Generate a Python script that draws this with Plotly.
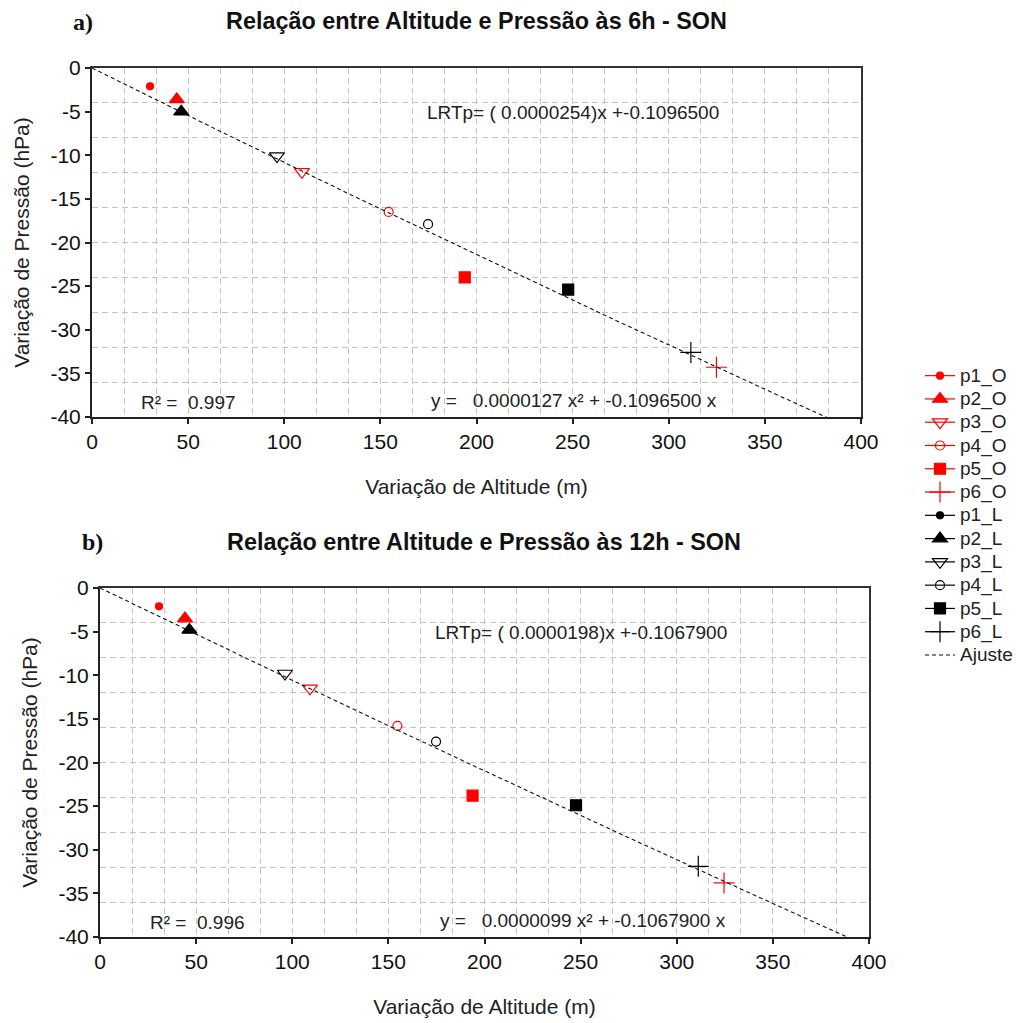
import numpy as np
import plotly.graph_objects as go

W, H = 1020, 1023

# ---- data: observed (O) and lapse-rate (L) points for each station ----
series_names = ["p1_O", "p2_O", "p3_O", "p4_O", "p5_O", "p6_O",
                "p1_L", "p2_L", "p3_L", "p4_L", "p5_L", "p6_L"]

# 06h - SON
alt_06 = [30.2, 44.1, 109.2, 154.3, 193.9, 324.8,
          None, 46.4, 96.2, 174.8, 247.7, 311.5]
pres_06 = [-2.1, -3.6, -11.9, -16.5, -24.0, -34.3,
           None, -5.0, -10.1, -17.9, -25.4, -32.6]

# 12h - SON
alt_12 = [30.7, 44.2, 109.2, 154.7, 193.8, 324.6,
          None, 46.5, 96.2, 174.8, 247.6, 311.2]
pres_12 = [-2.1, -3.5, -11.5, -15.8, -23.8, -33.8,
           None, -4.8, -9.8, -17.6, -24.9, -31.9]

# fitted curves y = a x^2 + b x
fit_06 = (0.0000127, -0.1096500)
fit_12 = (0.0000099, -0.1067900)
r2_06, r2_12 = 0.997, 0.996
lrt_06, lrt_12 = 0.0000254, 0.0000198

x_ticks = [0, 50, 100, 150, 200, 250, 300, 350, 400]
y_ticks = [0, -5, -10, -15, -20, -25, -30, -35, -40]

symbols = ["circle", "triangle-up", "triangle-down-open", "circle-open",
           "square", "cross-thin-open"]
sizes = [7, 13, 13, 9, 11, 15]

FONT = "Liberation Sans, Arial, sans-serif"
SERIF = "Liberation Serif, Times New Roman, serif"
RED, BLACK = "#ff0000", "#000000"
GRID = "#c4c4c4"

fig = go.Figure()


def add_panel(alts, pres, fit, xa, ya, show_leg):
    for i, name in enumerate(series_names):
        k = i % 6
        color = RED if i < 6 else BLACK
        fig.add_trace(go.Scatter(
            x=[alts[i]], y=[pres[i]],
            name=f'<span style="font-size:19px">{name}</span>',
            legendgroup=name, showlegend=show_leg, mode="lines+markers",
            line=dict(color=color, width=1.2),
            marker=dict(symbol=symbols[k], size=sizes[k], color=color,
                        line=dict(color=color, width=1.2)),
            xaxis=xa, yaxis=ya, cliponaxis=False))
    xf = np.linspace(0, 400, 401)
    yf = fit[0] * xf ** 2 + fit[1] * xf
    fig.add_trace(go.Scatter(
        x=xf, y=yf, name='<span style="font-size:19px">Ajuste</span>',
        legendgroup="Ajuste", showlegend=show_leg,
        mode="lines", line=dict(color="#111111", width=1.1, dash="4px,3px"),
        xaxis=xa, yaxis=ya))


add_panel(alt_06, pres_06, fit_06, "x", "y", True)
add_panel(alt_12, pres_12, fit_12, "x2", "y2", False)


def px_x(p):
    return p / W


def px_y(p):
    return 1 - p / H


TICKFONT = dict(family=FONT, size=21, color="#111")
TITLEFONT = dict(family=FONT, size=21, color="#222")

main_x = dict(range=[0, 400], tickvals=x_ticks,
              ticktext=[str(v) for v in x_ticks], ticks="outside", ticklen=5,
              tickwidth=1.5, tickcolor="#222", showgrid=False, zeroline=False,
              showline=True, linewidth=2, linecolor="#222", automargin=False,
              tickfont=TICKFONT,
              title=dict(text="Variação de Altitude (m)", standoff=27,
                         font=TITLEFONT))
main_y = dict(range=[-40, 0], tickvals=y_ticks,
              ticktext=[str(v) for v in y_ticks], ticks="outside", ticklen=5,
              tickwidth=1.5, tickcolor="#222", showgrid=False, zeroline=False,
              showline=True, linewidth=2, linecolor="#222", automargin=False,
              tickfont=TICKFONT,
              title=dict(text="Variação de Pressão (hPa)", standoff=15,
                         font=TITLEFONT))
grid_x = dict(range=[0, 400], dtick=400 / 24, tick0=0, showticklabels=False,
              ticks="", showgrid=True, gridcolor=GRID, griddash="6px,4px",
              gridwidth=1, zeroline=False, showline=True, linewidth=1.5,
              linecolor="#333", side="top", automargin=False)
grid_y = dict(range=[-40, 0], dtick=4, tick0=0, showticklabels=False,
              ticks="", showgrid=True, gridcolor=GRID, griddash="6px,4px",
              gridwidth=1, zeroline=False, showline=True, linewidth=1.5,
              linecolor="#333", side="right", automargin=False)

dom_a_x = [px_x(92), px_x(861)]
dom_a_y = [px_y(417), px_y(68)]
dom_b_x = [px_x(100), px_x(869)]
dom_b_y = [px_y(937), px_y(588)]

fig.update_layout(
    xaxis=dict(main_x, domain=dom_a_x, anchor="y"),
    yaxis=dict(main_y, domain=dom_a_y, anchor="x"),
    xaxis2=dict(main_x, domain=dom_b_x, anchor="y2"),
    yaxis2=dict(main_y, domain=dom_b_y, anchor="x2"),
    xaxis3=dict(grid_x, overlaying="x", anchor="y"),
    yaxis3=dict(grid_y, overlaying="y", anchor="x"),
    xaxis4=dict(grid_x, overlaying="x2", anchor="y2"),
    yaxis4=dict(grid_y, overlaying="y2", anchor="x2"),
)

# invisible carriers so the grid axes get drawn
for xa, ya in [("x3", "y"), ("x", "y3"), ("x4", "y2"), ("x2", "y4")]:
    fig.add_trace(go.Scatter(x=[None], y=[None], xaxis=xa, yaxis=ya,
                             showlegend=False, hoverinfo="skip"))

NB = "\u00a0"
ann = []


def label(text, x, y, size=19, xanchor="left", family=FONT, color="#222",
          bold=False):
    t = f"<b>{text}</b>" if bold else text
    ann.append(dict(text=t, x=px_x(x), y=px_y(y), xref="paper", yref="paper",
                    xanchor=xanchor, yanchor="middle", showarrow=False,
                    font=dict(family=family, size=size, color=color)))


label("a)", 83, 22, size=24, xanchor="center", family=SERIF, color="#111", bold=True)
label("Relação entre Altitude e Pressão às 6h - SON", 476, 21, size=23.4,
      xanchor="center", color="#111", bold=True)
label("b)", 92, 542, size=24, xanchor="center", family=SERIF, color="#111", bold=True)
label("Relação entre Altitude e Pressão às 12h - SON", 484, 542, size=23.4,
      xanchor="center", color="#111", bold=True)

label(f"LRTp= ( {lrt_06:.7f})x +{fit_06[1]:.7f}", 425, 112)
label(f"R²{NB}={NB}{NB}{r2_06:.3f}", 139, 402)
label(f"y{NB}={NB}{NB}{NB}{fit_06[0]:.7f}{NB}x²{NB}+{NB}{fit_06[1]:.7f}{NB}x", 429, 400)

label(f"LRTp= ( {lrt_12:.7f})x +{fit_12[1]:.7f}", 433, 632)
label(f"R²{NB}={NB}{NB}{r2_12:.3f}", 148, 922)
label(f"y{NB}={NB}{NB}{NB}{fit_12[0]:.7f}{NB}x²{NB}+{NB}{fit_12[1]:.7f}{NB}x", 438, 920)

fig.update_layout(
    width=W, height=H, margin=dict(l=0, r=0, t=0, b=0),
    paper_bgcolor="white", plot_bgcolor="white",
    annotations=ann,
    legend=dict(x=px_x(920), y=px_y(359), xanchor="left", yanchor="top",
                font=dict(family=FONT, size=15.6, color="#222"),
                bgcolor="rgba(0,0,0,0)", borderwidth=0, tracegroupgap=0),
    showlegend=True,
)

fig.write_html("out.html")
